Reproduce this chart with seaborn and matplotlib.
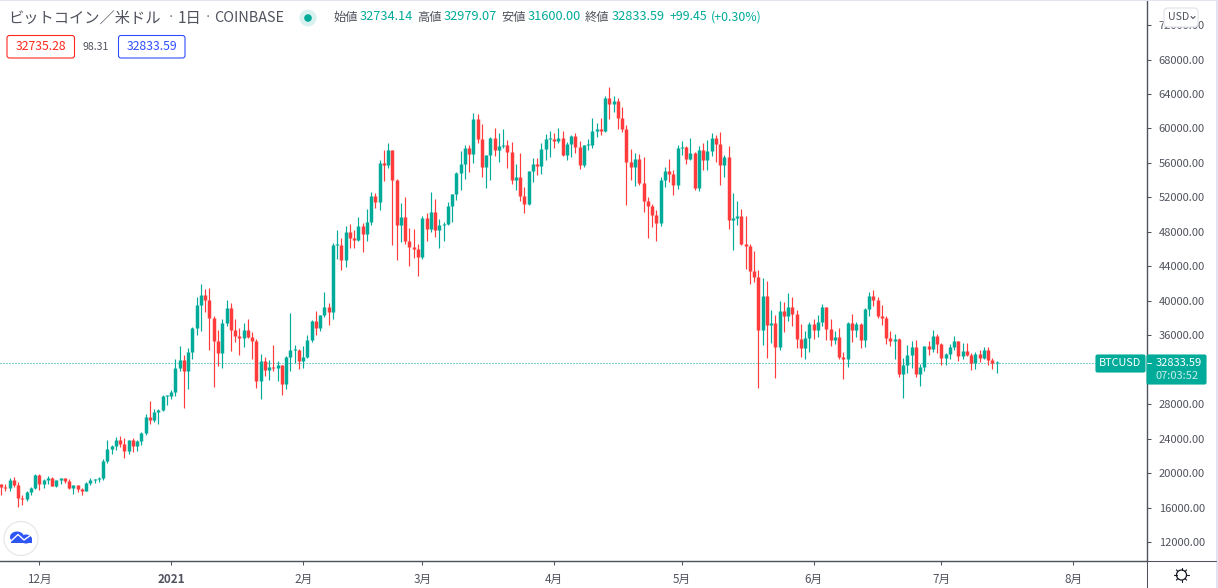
import pandas as pd
import numpy as np
import matplotlib
matplotlib.use('Agg')
import matplotlib.pyplot as plt
from matplotlib.patches import Circle, Ellipse, FancyBboxPatch, Rectangle
import seaborn as sns

# BTC/USD daily, first candle 2020-11-22
first_open = 18720
closes = [
    18420, 18270, 19200, 18580, 17110, 17030, 17800, 18270, 19780, 18730,
    19200, 19430, 18500, 19200, 19430, 19080, 18270, 18620, 18150, 17920,
    18850, 19200, 19310, 19430, 21400, 22790, 23140, 23840, 23380, 22560,
    23840, 23140, 23720, 24650, 26510, 26160, 27090, 27320, 28950, 28990,
    29410, 32200, 33130, 31850, 34050, 36840, 39510, 40670, 40090, 38000,
    35330, 33940, 37420, 39160, 36610, 35910, 35680, 36610, 35800, 35330,
    30690, 33010, 31960, 32310, 32200, 32550, 30340, 33470, 34290, 34330,
    33010, 33470, 35450, 37650, 36840, 38350, 39280, 38700, 46470, 46510,
    44730, 47980, 47290, 47050, 48680, 47750, 49140, 52160, 51460, 55990,
    55760, 57500, 54020, 48790, 49720, 46940, 46240, 46010, 45080, 49610,
    48330, 50300, 48210, 48790, 48910, 51000, 52390, 54830, 55880, 57730,
    57040, 61100, 58780, 55530, 56920, 58890, 57500, 57960, 58080, 57270,
    54020, 54370, 52160, 51230, 55060, 55870, 55640, 57620, 58780, 58820,
    58540, 58890, 56920, 58200, 59120, 57850, 55760, 58080, 58120, 59700,
    59940, 59700, 63540, 62840, 63190, 61210, 59940, 56110, 55530, 56450,
    53670, 51580, 51000, 49950, 49030, 54020, 55060, 54710, 53440, 57730,
    57850, 56450, 57150, 53090, 57500, 56340, 57380, 58890, 58200, 55760,
    56690, 49370, 49610, 49840, 46590, 46360, 43450, 42760, 36610, 40550,
    37190, 37420, 34630, 38810, 38230, 39280, 38460, 35560, 34520, 35680,
    37300, 36610, 37540, 39280, 36720, 35450, 35790, 33470, 33240, 37420,
    36610, 37300, 35450, 39040, 40550, 40090, 38230, 38000, 35680, 35330,
    35560, 31500, 32540, 33710, 34630, 31500, 32310, 34750, 34400, 35910,
    34980, 33360, 33820, 34630, 35330, 33590, 34170, 33710, 32780, 33820,
    33360, 34290, 33120, 32734.14, 32833.59,
]
highs = [
    18730, 18730, 19430, 19550, 18960, 17460, 17920, 18380, 19890, 19890,
    19310, 19660, 19550, 19200, 19430, 19430, 19310, 18620, 18620, 18270,
    18960, 19430, 19310, 19550, 21630, 23840, 23260, 24190, 24300, 24070,
    23840, 24070, 23840, 24770, 26860, 28370, 27440, 27440, 29060, 29060,
    29640, 33240, 34750, 33710, 34520, 36960, 40440, 41950, 41370, 41480,
    38230, 36610, 37880, 40090, 39740, 37880, 36840, 37420, 37880, 36380,
    35560, 33820, 33470, 33130, 34870, 33010, 32550, 33590, 38580, 34870,
    34400, 34750, 36030, 37770, 38810, 38350, 41020, 39740, 46710, 48210,
    47290, 48680, 48910, 48210, 49720, 49030, 50650, 52630, 52510, 56340,
    57500, 58310, 57500, 54130, 51350, 52040, 48450, 48330, 46590, 49840,
    50190, 52630, 51810, 49490, 49140, 51460, 52390, 54950, 57380, 58080,
    58080, 61790, 61680, 60520, 56920, 59010, 60050, 59470, 59940, 58660,
    58430, 55870, 57150, 53210, 55060, 56570, 56570, 58310, 59360, 59700,
    59470, 60050, 59700, 58430, 59240, 59470, 58540, 58080, 58780, 61210,
    60630, 61210, 63770, 64810, 63770, 63540, 62490, 60400, 57620, 57150,
    57040, 56690, 52040, 51230, 50540, 54370, 55530, 56450, 55180, 58080,
    58540, 57960, 58890, 57270, 57960, 58310, 58660, 59470, 59240, 59590,
    56920, 57960, 52510, 51580, 50650, 49840, 46590, 45780, 43570, 42640,
    42290, 38930, 38350, 39970, 39860, 40900, 40440, 38930, 37300, 36490,
    37540, 37880, 38350, 39620, 39280, 37880, 36490, 36840, 34050, 37540,
    38460, 37540, 37420, 39160, 41020, 41250, 40440, 39510, 38230, 36490,
    36140, 35680, 33360, 34870, 35330, 35450, 32660, 34750, 35330, 36610,
    36140, 35100, 33940, 34980, 35910, 35330, 35100, 35100, 33940, 34050,
    34290, 34630, 34630, 33360, 32979.07,
]
lows = [
    17460, 17920, 17920, 18420, 16060, 16300, 16760, 17460, 18150, 18040,
    18270, 18730, 18500, 18380, 18730, 18850, 18150, 17570, 17800, 17460,
    17920, 18620, 18850, 18960, 19200, 21170, 22210, 22680, 23030, 21750,
    22210, 22450, 22560, 23260, 24420, 25700, 25930, 25700, 27210, 27900,
    28600, 28950, 31850, 27550, 29760, 33240, 36030, 36490, 38700, 34290,
    29990, 32430, 32200, 37070, 34170, 35210, 33710, 34630, 35680, 33240,
    29880, 28600, 31270, 30800, 31850, 30690, 29060, 29760, 31850, 32780,
    32080, 32200, 33360, 35210, 36030, 36490, 38120, 37190, 37880, 44850,
    43570, 43920, 46130, 46130, 46940, 45660, 46940, 48790, 50770, 50540,
    53900, 55410, 46470, 44730, 46820, 46590, 44040, 44960, 42880, 44850,
    46940, 47980, 47400, 46130, 46940, 48790, 49140, 51700, 52860, 54130,
    54950, 55990, 58310, 54370, 53090, 54020, 56800, 56110, 57730, 55410,
    53550, 52860, 51580, 50190, 51120, 53790, 54600, 54710, 56340, 56690,
    57730, 58310, 56800, 56340, 56690, 57150, 55290, 55530, 57500, 57730,
    59010, 59240, 59590, 61100, 61910, 59940, 59590, 51120, 54020, 53320,
    53440, 50300, 47290, 48560, 46940, 48680, 53200, 53790, 52280, 52970,
    56920, 55870, 56340, 52860, 52740, 55180, 55180, 56800, 56110, 53440,
    54370, 48330, 45890, 48790, 46470, 43690, 41950, 42180, 29870, 34870,
    33360, 35100, 31040, 34290, 36370, 37650, 37070, 34520, 33470, 33240,
    34050, 35560, 35790, 37070, 35450, 34750, 34980, 33240, 30920, 32310,
    35210, 35790, 34520, 34630, 38230, 39390, 38000, 37190, 34980, 34750,
    33240, 31150, 28710, 31620, 32200, 31150, 30110, 31850, 33710, 34050,
    33940, 32540, 32540, 33240, 34290, 33010, 33240, 33590, 31960, 32080,
    32890, 33240, 32540, 32080, 31600.00,
]

last_price = 32833.59
price_ticks = list(range(12000, 76000, 4000))
hidden_tick = 32000  # sits behind the price tag
month_ticks = ['2020-12-01', '2021-01-01', '2021-02-01', '2021-03-01',
               '2021-04-01', '2021-05-01', '2021-06-01', '2021-07-01', '2021-08-01']
month_labels = ['12月', '2021', '2月', '3月', '4月', '5月', '6月', '7月', '8月']

UP = '#00ab9a'
DOWN = '#ff3b3b'
INK = '#50535e'
BAND = '#e1e4f0'

sns.set_theme(style='white')
plt.rcParams['font.family'] = ['Noto Sans CJK JP', 'DejaVu Sans']

dates = pd.date_range('2020-11-22', periods=len(closes), freq='D')
opens = [first_open] + closes[:-1]
df = pd.DataFrame({'date': dates, 'open': opens, 'high': highs, 'low': lows, 'close': closes})
df['dir'] = np.where(df['close'] >= df['open'], 'up', 'down')
# one pixel minimum so that doji bodies still show
df['top'] = np.maximum(df[['open', 'close']].max(axis=1), df[['open', 'close']].min(axis=1) + 116)
df['bot'] = df[['open', 'close']].min(axis=1)

wicks = df.melt(id_vars=['date', 'dir'], value_vars=['high', 'low'], value_name='price')
bodies = df.melt(id_vars=['date', 'dir'], value_vars=['top', 'bot'], value_name='price')

fig = plt.figure(figsize=(12.18, 5.88), dpi=100, facecolor='white')
ax = fig.add_axes([0, 27 / 588, 1146.5 / 1218, 560 / 588])
palette = {'up': UP, 'down': DOWN}

sns.lineplot(data=wicks, x='date', y='price', hue='dir', units='date', estimator=None,
             palette=palette, linewidth=0.85, legend=False, ax=ax, solid_capstyle='butt')
sns.lineplot(data=bodies, x='date', y='price', hue='dir', units='date', estimator=None,
             palette=palette, linewidth=2.5, legend=False, ax=ax, solid_capstyle='butt')

# 1 px on, 2 px off
ax.axhline(last_price, color=UP, linewidth=0.8, linestyle=(0, (0.9, 1.8)), zorder=1)

# 4.255 px per day, 1 December sits at x=39.3
dec1 = pd.Timestamp('2020-12-01')
ax.set_xlim(dec1 - pd.Timedelta(days=39.3 / 4.255), dec1 + pd.Timedelta(days=(1146.5 - 39.3) / 4.255))
ax.set_ylim(74910 - 116.07 * 561, 74910 - 116.07 * 1)

ax.set_xticks(pd.to_datetime(month_ticks))
ax.set_xticklabels(month_labels, fontsize=8.4, color=INK)
ax.get_xticklabels()[1].set_fontweight('bold')
ax.yaxis.tick_right()
ax.set_yticks(price_ticks)
ax.set_yticklabels(['' if p == hidden_tick else f'{p:.2f}' for p in price_ticks], fontsize=8.0, color=INK)
ax.tick_params(axis='both', length=3.2, width=0.75, color=INK, pad=5.5,
               bottom=True, right=True, left=False, labelleft=False)
ax.set_xlabel('')
ax.set_ylabel('')
for side in ['top', 'left']:
    ax.spines[side].set_visible(False)
for side in ['right', 'bottom']:
    ax.spines[side].set_color(INK)
    ax.spines[side].set_linewidth(1.0)

# overlay in image pixels for the TradingView header and tags
ov = fig.add_axes([0, 0, 1, 1], facecolor='none', zorder=5)
ov.set_xlim(0, 1218)
ov.set_ylim(588, 0)
ov.axis('off')


def label(x, y, s, color=INK, size=8.6, ha='left', **kw):
    ov.text(x, y, s, color=color, fontsize=size, ha=ha, va='center', **kw)


def box(x0, y0, x1, y1, face, edge, rad=2.5):
    ov.add_patch(FancyBboxPatch((x0, y0), x1 - x0, y1 - y0, boxstyle=f'round,pad=0,rounding_size={rad}',
                                facecolor=face, edgecolor=edge, linewidth=0.8))


ov.add_patch(Rectangle((0, 0), 1218, 1.2, facecolor=BAND, edgecolor='none'))
ov.add_patch(Rectangle((1215.5, 0), 2.5, 588, facecolor=BAND, edgecolor='none'))
ov.plot([0, 1215.5], [561, 561], color=INK, lw=0.75)
ov.plot([1146.5, 1146.5], [560, 588], color=INK, lw=0.75)

label(8, 18, 'ビットコイン／米ドル', size=11.0)
label(168, 17, '·', size=8)
label(178, 18, '1日', size=11.0)
label(205, 17, '·', size=8)
label(214, 18, 'COINBASE', size=10.4)

ov.add_patch(Circle((308, 18), 8.5, facecolor='#d9f2ef', edgecolor='none'))
ov.add_patch(Circle((308, 18), 3.8, facecolor=UP, edgecolor='none'))

label(333, 17, '始値', size=8.8)
label(360, 17, '32734.14', color=UP, size=9.2)
label(417, 17, '高値', size=8.8)
label(444, 17, '32979.07', color=UP, size=9.2)
label(501, 17, '安値', size=8.8)
label(528, 17, '31600.00', color=UP, size=9.2)
label(585, 17, '終値', size=8.8)
label(612, 17, '32833.59', color=UP, size=9.2)
label(669, 17, '+99.45', color=UP, size=8.9)
label(711, 17, '(+0.30%)', color=UP, size=8.9)

box(7, 35.5, 74.5, 58, 'white', '#ff2a1f')
label(40.7, 47, '32735.28', color='#ff2a1f', ha='center', size=8.8)
label(96, 47, '98.31', ha='center', size=7.6)
box(118.5, 35.5, 185, 58, 'white', '#2f4dff')
label(151.7, 47, '32833.59', color='#2f4dff', ha='center', size=8.8)

box(1164, 8, 1198, 27, 'white', '#dfe1e8', rad=4)
label(1168, 17.5, 'USD', size=7.6)
ov.plot([1191, 1193, 1195], [16.5, 18.5, 16.5], color=INK, lw=0.8)

box(1096, 355, 1145, 372, UP, UP, rad=1.5)
label(1120.5, 363.5, 'BTCUSD', color='white', ha='center', size=7.8)
box(1147, 355, 1206, 384, UP, UP, rad=1.5)
ov.plot([1147, 1151], [363, 363], color='white', lw=0.7)
label(1156, 363, '32833.59', color='white', size=8.0)
label(1156, 376, '07:03:52', color='#c9eeea', size=8.0)

# logo
ov.add_patch(Circle((21, 538.5), 17, facecolor='white', edgecolor='#e6e7ea', linewidth=0.9))
ov.add_patch(Ellipse((17, 537), 14, 11, facecolor='#2f55f5', edgecolor='none'))
ov.add_patch(Ellipse((26, 539), 12, 9, facecolor='#2f55f5', edgecolor='none'))
ov.add_patch(Rectangle((11, 538), 21, 5, facecolor='#2f55f5', edgecolor='none'))
ov.plot([11, 18, 24, 31], [541, 534.5, 540, 535], color='white', lw=1.0)

# settings icon
ov.add_patch(Circle((1181.5, 575), 5, facecolor='white', edgecolor='#131722', linewidth=0.9))
for a in np.arange(0, 360, 45):
    c, s = np.cos(np.radians(a)), np.sin(np.radians(a))
    ov.plot([1181.5 + 5 * c, 1181.5 + 7.2 * c], [575 + 5 * s, 575 + 7.2 * s], color='#131722', lw=0.8)

fig.savefig('out.png', dpi=100)
